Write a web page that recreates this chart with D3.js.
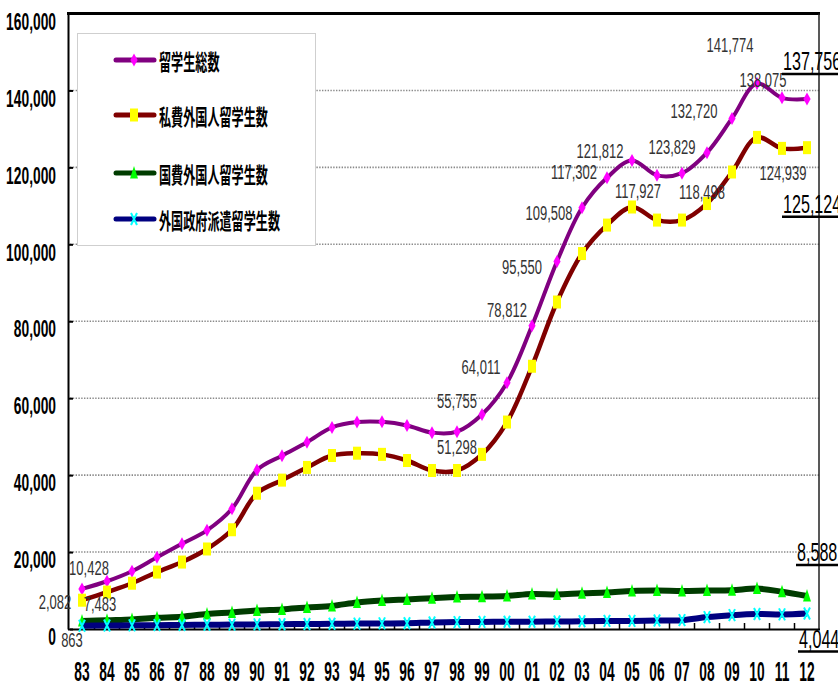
<!DOCTYPE html>
<html><head><meta charset="utf-8">
<script src="https://cdn.jsdelivr.net/npm/d3@7"></script>
<style>body{margin:0;background:#fff}svg{display:block}</style>
</head><body>
<svg id="c" width="838" height="686"></svg>
<script>
// ---------- data ----------
const years = ["83","84","85","86","87","88","89","90","91","92","93","94","95","96","97","98","99","00","01","02","03","04","05","06","07","08","09","10","11","12"];
const totalStudents = [10428,12410,15009,18631,22154,25643,31251,41347,45066,48561,52405,53787,53847,52921,51047,51298,55755,64011,78812,95550,109508,117302,121812,117927,118498,123829,132720,141774,138075,137756];
const privateFunded = [7483,9600,11900,14800,17400,20800,25800,35300,38700,42000,45100,45700,45400,43800,41200,41200,45400,53800,68300,85000,97600,105000,109700,106300,106300,110600,118800,127800,124939,125124];
const govFunded = [2082,2300,2500,2900,3200,3900,4300,4800,5100,5600,6000,6900,7400,7700,8000,8300,8400,8600,9100,9000,9300,9500,9900,10000,9900,10000,10100,10500,9700,8588];
const foreignGov = [863,900,950,1000,1050,1100,1150,1200,1250,1300,1350,1400,1450,1500,1700,1800,1850,1900,1900,1950,2000,2100,2100,2200,2300,3100,3600,3900,3800,4044];
const seriesNames = ["留学生総数","私費外国人留学生数","国費外国人留学生数","外国政府派遣留学生数"];
const yTicks = [0,20000,40000,60000,80000,100000,120000,140000,160000];
// annotated points: [series index, year index]
const labelPoints = [[0,0],[0,15],[0,16],[0,17],[0,18],[0,19],[0,20],[0,21],[0,22],[0,23],[0,24],[0,25],[0,26],[0,27],[0,28],[1,0],[1,28],[2,0],[3,0]];
const endLabelPoints = [[0,29],[1,29],[2,29],[3,29]];

// ---------- layout / style ----------
const labelOffsets = [[7,-21],[0,15],[-25,-14],[-26,-16],[-25,-16],[-35,5],[-33,5],[-33,-6],[-32,-10],[-19,15],[20,19],[-35,-6],[-38,-8],[-27,-39],[-19,-18],[18,4],[1,24],[-27,-19],[-10,14]];
const endLabelOffsets = [[-24,-38],[-24,56],[-10,-44],[-8,25]];
const lineColors = ["#800080","#800000","#003c00","#000080"];
const markerColors = ["#ff00ff","#ffff00","#00ff00","#00ffff"];
const lineWidths = [4,4.5,6,6];
const legendYs = [60,115,173,219];

const svg = d3.select("#c");
const x = d3.scaleBand().domain(years).range([69.5,819.5]);
const y = d3.scaleLinear().domain([0,160000]).range([629,13.5]);
const cx = i => x(years[i]) + x.bandwidth()/2;
const allSeries = [totalStudents, privateFunded, govFunded, foreignGov];
const fmt = d3.format(",");

function squash(sel, r){
  sel.each(function(){
    const L = this.getComputedTextLength();
    this.setAttribute("textLength", L*r);
    this.setAttribute("lengthAdjust","spacingAndGlyphs");
  });
}

// gridlines
svg.append("g").selectAll("line").data(yTicks.filter(v=>v>0 && v<160000)).join("line")
  .attr("x1",70).attr("x2",819).attr("y1",d=>y(d)).attr("y2",d=>y(d))
  .attr("stroke","#8a8a8a").attr("stroke-width",1.6).attr("stroke-dasharray","1.4,1.4");

// frame
svg.append("line").attr("x1",67).attr("x2",820).attr("y1",y(160000)).attr("y2",y(160000))
  .attr("stroke","#000").attr("stroke-width",3);
svg.append("line").attr("x1",819).attr("x2",819).attr("y1",y(160000)).attr("y2",y(0))
  .attr("stroke","#222").attr("stroke-width",1.5);

// y axis
const ya = svg.append("g").attr("transform","translate(68,0)")
  .call(d3.axisLeft(y).tickValues(yTicks).tickFormat(fmt).tickSize(-5).tickSizeOuter(0).tickPadding(12));
ya.select(".domain").attr("stroke","#000").attr("stroke-width",2);
ya.selectAll(".tick line").attr("stroke","#000").attr("stroke-width",2);
ya.selectAll("text").attr("font-family","'Liberation Sans',Arial,sans-serif").attr("font-weight","bold")
  .attr("font-size",24).attr("fill","#000").attr("y",8).call(squash,0.575);

// x axis
const xa = svg.append("g").attr("transform",`translate(0,${y(0)})`)
  .call(d3.axisBottom(x).tickSize(0).tickSizeOuter(0));
xa.select(".domain").attr("stroke","#000").attr("stroke-width",2);
xa.selectAll("text").attr("font-family","'Liberation Sans',Arial,sans-serif").attr("font-weight","bold")
  .attr("font-size",27).attr("fill","#000").attr("dy",0).attr("y",52).call(squash,0.51);
svg.append("g").selectAll("line").data(d3.range(1,years.length)).join("line")
  .attr("x1",k=>x.range()[0]+k*x.bandwidth()).attr("x2",k=>x.range()[0]+k*x.bandwidth())
  .attr("y1",y(0)).attr("y2",y(0)-6).attr("stroke","#000").attr("stroke-width",1.5);

// markers
function drawMarker(g, s){
  if(s===0) g.append("path").attr("d","M0,-6.5L3.6,0L0,6.5L-3.6,0Z").attr("fill",markerColors[0]);
  else if(s===1) g.append("rect").attr("x",-4).attr("y",-6.5).attr("width",8).attr("height",13).attr("fill",markerColors[1]);
  else if(s===2) g.append("path").attr("d","M0,-7L4,5.5L-4,5.5Z").attr("fill",markerColors[2]);
  else { g.append("path").attr("d","M-3,-6L3,6M3,-6L-3,6").attr("stroke",markerColors[3]).attr("stroke-width",2).attr("fill","none"); }
}

// series
const line = d3.line().x((d,i)=>cx(i)).y(d=>y(d)).curve(d3.curveCatmullRom);
allSeries.forEach((vals,s)=>{
  const g = svg.append("g");
  g.append("path").attr("d",line(vals)).attr("fill","none").attr("stroke",lineColors[s])
    .attr("stroke-width",lineWidths[s]).attr("stroke-linejoin","round");
  vals.forEach((v,i)=>{
    const m = g.append("g").attr("transform",`translate(${cx(i)},${y(v)})`);
    drawMarker(m,s);
  });
});

// legend
const lg = svg.append("g");
lg.append("rect").attr("x",77.5).attr("y",33.5).attr("width",238).attr("height",212)
  .attr("fill","#fff").attr("stroke","#cfcfcf").attr("stroke-width",1);
seriesNames.forEach((name,s)=>{
  const yy = legendYs[s];
  lg.append("line").attr("x1",116).attr("x2",154).attr("y1",yy).attr("y2",yy)
    .attr("stroke",lineColors[s]).attr("stroke-width",5).attr("stroke-linecap","round");
  const m = lg.append("g").attr("transform",`translate(134,${yy})`);
  drawMarker(m,s);
  lg.append("text").attr("x",159).attr("y",yy+2).attr("dy","0.36em")
    .attr("font-family","'Noto Sans CJK JP',sans-serif").attr("font-weight","bold")
    .attr("font-size",22).attr("fill","#000").text(name).call(squash,0.55);
});

// value labels
svg.append("g").selectAll("text").data(labelPoints).join("text")
  .attr("x",(d,k)=>cx(d[1])+labelOffsets[k][0])
  .attr("y",(d,k)=>y(allSeries[d[0]][d[1]])+labelOffsets[k][1])
  .attr("dy","0.36em").attr("text-anchor","middle")
  .attr("font-family","'Liberation Sans',Arial,sans-serif").attr("font-size",20).attr("fill","#333")
  .text(d=>fmt(allSeries[d[0]][d[1]])).call(squash,0.65);

// end labels (underlined)
const eg = svg.append("g");
endLabelPoints.forEach((d,k)=>{
  const lx = cx(d[1])+endLabelOffsets[k][0];
  const ly = y(allSeries[d[0]][d[1]])+endLabelOffsets[k][1];
  eg.append("text").attr("x",lx).attr("y",ly).attr("dy","0.36em")
    .attr("font-family","'Liberation Sans',Arial,sans-serif").attr("font-size",26).attr("fill","#000")
    .text(fmt(allSeries[d[0]][d[1]])).call(squash,0.62);
  eg.append("line").attr("x1",lx-1).attr("x2",838).attr("y1",ly+13).attr("y2",ly+13)
    .attr("stroke","#000").attr("stroke-width",2.5);
});
</script>
</body></html>
